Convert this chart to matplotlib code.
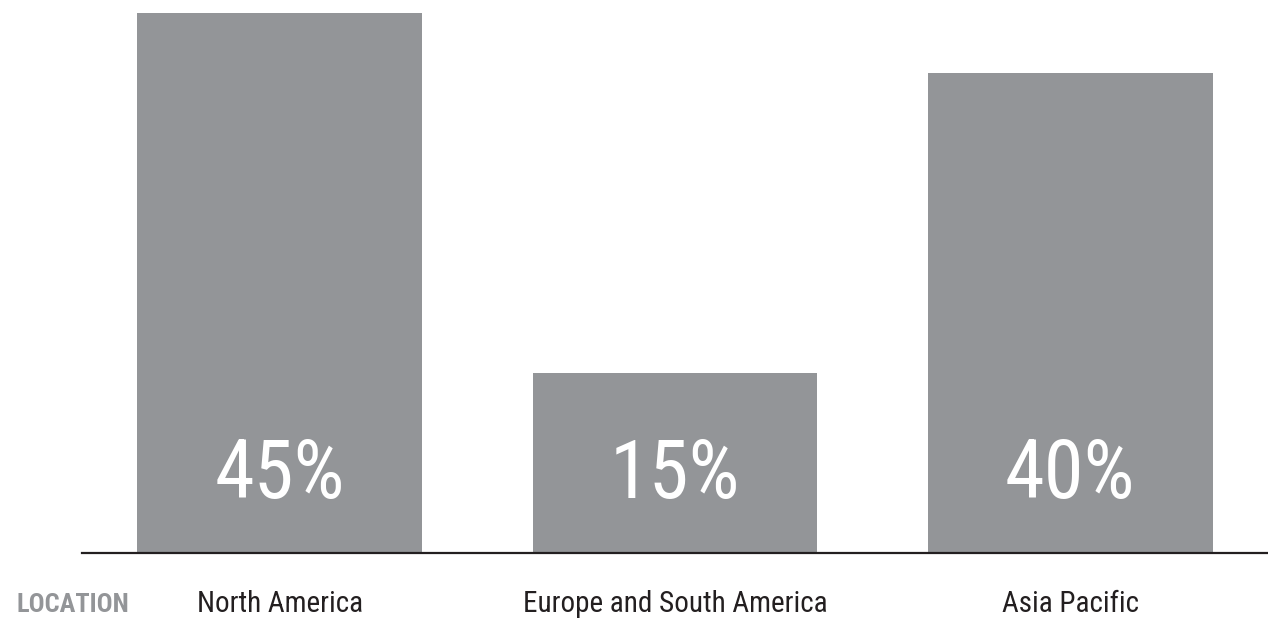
import matplotlib
matplotlib.use("Agg")
import matplotlib.pyplot as plt
import matplotlib.transforms as mtransforms

categories = ["North America", "Europe and South America", "Asia Pacific"]
shares = [45, 15, 40]
share_labels = ["45%", "15%", "40%"]
axis_title = "LOCATION"

FONT = ["Roboto Condensed", "DejaVu Sans Condensed", "Roboto", "DejaVu Sans"]
BAR = "#939598"
DARK = "#231f20"

W, H = 1268, 618
fig = plt.figure(figsize=(W / 100, H / 100), dpi=100)
ax = fig.add_axes([82 / W, 65 / H, (W - 82) / W, 540 / H])

x = list(range(len(categories)))
ax.bar(x, shares, width=0.72, color=BAR, zorder=2)
ax.set_xlim(-0.5, 2.5)
ax.set_ylim(0, 45)

for xi, lab in zip(x, share_labels):
    ax.annotate(lab, xy=(xi, 0), xytext=(0, 55), textcoords="offset pixels",
                ha="center", va="baseline", color="white", fontsize=58,
                family=FONT, fontstretch="condensed", zorder=3)

for s in ["top", "left", "right"]:
    ax.spines[s].set_visible(False)
ax.spines["bottom"].set_color(DARK)
ax.spines["bottom"].set_linewidth(1.6)
ax.spines["bottom"].set_zorder(4)
ax.set_yticks([])
ax.set_xticks([])

trans = mtransforms.blended_transform_factory(ax.transData, fig.transFigure)
for xi, cat in zip(x, categories):
    ax.text(xi, 1 - 612 / H, cat, transform=trans, ha="center", va="baseline",
            family=FONT, fontstretch="condensed", fontsize=21, color=DARK)

fig.text(73 / W, 1 - 612 / H, axis_title, ha="center", va="baseline",
         family=FONT, fontstretch="condensed", fontsize=19,
         fontweight="bold", color=BAR)

fig.savefig("out.png", dpi=100)
